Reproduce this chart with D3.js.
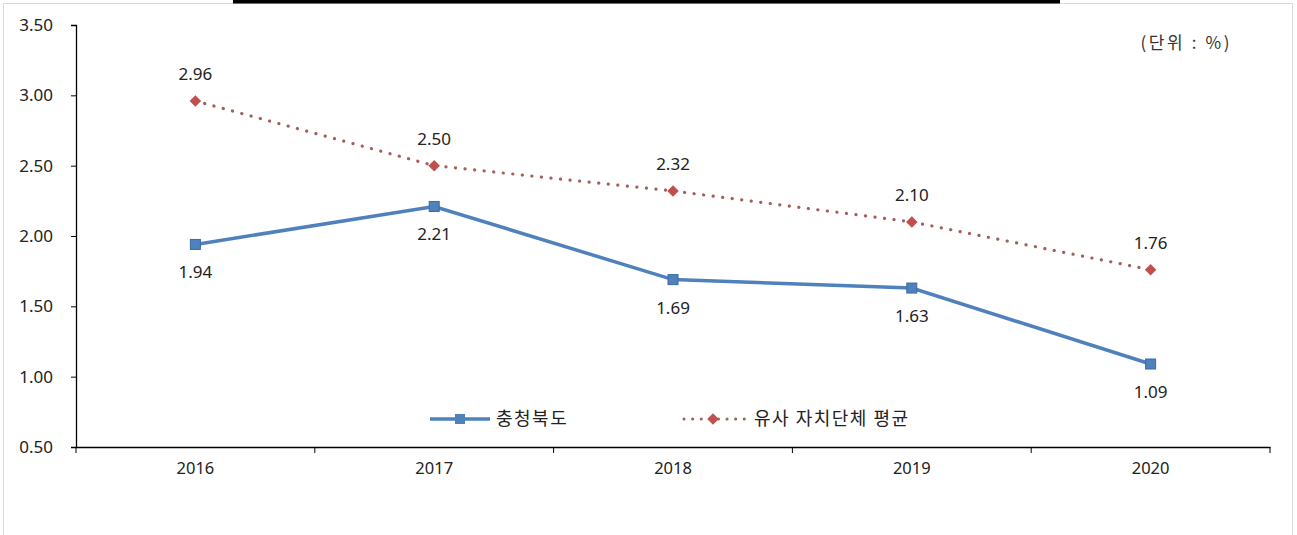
<!DOCTYPE html>
<html>
<head>
<meta charset="utf-8">
<script src="https://cdnjs.cloudflare.com/ajax/libs/d3/7.8.5/d3.min.js"></script>
<style>
  body { margin: 0; background: #fff; }
  svg { display: block; font-family: "Noto Sans", "Noto Sans CJK KR", sans-serif; }
  .kr { font-family: "Noto Sans CJK KR", sans-serif; }
</style>
</head>
<body>
<script>
var years = ["2016", "2017", "2018", "2019", "2020"];
var chungbuk = [1.94, 2.21, 1.69, 1.63, 1.09];
var similarAvg = [2.96, 2.50, 2.32, 2.10, 1.76];
var yTicks = [0.5, 1.0, 1.5, 2.0, 2.5, 3.0, 3.5];
var seriesNames = ["충청북도", "유사 자치단체 평균"];

var width = 1297, height = 535;
var margin = {top: 25, right: 27, bottom: 88, left: 76};

var svg = d3.select("body").append("svg")
    .attr("width", width)
    .attr("height", height);

// 바깥 테두리와 위쪽 검은 띠
svg.append("rect")
    .attr("x", 3.5).attr("y", 3.5)
    .attr("width", 1289).attr("height", 560)
    .attr("fill", "none")
    .attr("stroke", "#d9d9d9");
svg.append("rect")
    .attr("x", 233).attr("y", 0)
    .attr("width", 827).attr("height", 3.5)
    .attr("fill", "#000");

var x = d3.scaleBand()
    .domain(years)
    .range([margin.left, width - margin.right]);

var y = d3.scaleLinear()
    .domain([0.5, 3.5])
    .range([height - margin.bottom, margin.top]);

// y축
var yAxis = svg.append("g")
    .attr("transform", "translate(" + margin.left + ",0)")
    .call(d3.axisLeft(y).tickValues(yTicks).tickFormat(d3.format(".2f")).tickSize(5).tickPadding(18));
yAxis.select(".domain").attr("stroke", "#000").attr("stroke-width", 1.3);
yAxis.selectAll(".tick line").attr("stroke", "#000");
yAxis.selectAll("text").attr("font-size", 17).attr("fill", "#222")
    .attr("font-family", "Noto Sans");

// x축 (구간 경계에 눈금)
var xAxis = svg.append("g")
    .attr("transform", "translate(0," + (height - margin.bottom) + ")")
    .call(d3.axisBottom(x).tickSize(0).tickPadding(15));
xAxis.select(".domain").attr("stroke", "#000").attr("stroke-width", 1.3);
xAxis.selectAll("text").attr("font-size", 16.5).attr("fill", "#222")
    .attr("font-family", "Noto Sans");

var bounds = years.map(function(d) { return x(d); }).concat([x.range()[1]]);
svg.append("g").selectAll("line")
    .data(bounds)
    .enter().append("line")
    .attr("x1", function(d) { return d; })
    .attr("x2", function(d) { return d; })
    .attr("y1", height - margin.bottom)
    .attr("y2", height - margin.bottom + 6)
    .attr("stroke", "#000");

function cx(i) { return x(years[i]) + x.bandwidth() / 2; }

var line = d3.line()
    .x(function(d, i) { return cx(i); })
    .y(function(d) { return y(d); });

// 유사 자치단체 평균 (점선)
svg.append("path")
    .datum(similarAvg)
    .attr("d", line)
    .attr("fill", "none")
    .attr("stroke", "#a2605a")
    .attr("stroke-width", 3.2)
    .attr("stroke-dasharray", "0.1,9.5")
    .attr("stroke-linecap", "round");

// 충청북도 (실선)
svg.append("path")
    .datum(chungbuk)
    .attr("d", line)
    .attr("fill", "none")
    .attr("stroke", "#4f81bd")
    .attr("stroke-width", 3.5);

// 마름모 = 45도 돌린 정사각형
var diamond = d3.symbol().type(d3.symbolSquare).size(66);

svg.append("g").selectAll("path")
    .data(similarAvg)
    .enter().append("path")
    .attr("d", diamond)
    .attr("transform", function(d, i) { return "translate(" + cx(i) + "," + y(d) + ") rotate(45)"; })
    .attr("fill", "#c0504d");

svg.append("g").selectAll("rect")
    .data(chungbuk)
    .enter().append("rect")
    .attr("x", function(d, i) { return cx(i) - 5; })
    .attr("y", function(d) { return y(d) - 5; })
    .attr("width", 10).attr("height", 10)
    .attr("fill", "#4f81bd")
    .attr("stroke", "#3d6aa3");

// 데이터 레이블
svg.append("g").selectAll("text")
    .data(similarAvg)
    .enter().append("text")
    .attr("x", function(d, i) { return cx(i); })
    .attr("y", function(d) { return y(d) - 21; })
    .attr("text-anchor", "middle")
    .attr("font-size", 17)
    .attr("fill", "#222")
    .text(function(d) { return d.toFixed(2); });

svg.append("g").selectAll("text")
    .data(chungbuk)
    .enter().append("text")
    .attr("x", function(d, i) { return cx(i); })
    .attr("y", function(d) { return y(d) + 34; })
    .attr("text-anchor", "middle")
    .attr("font-size", 17)
    .attr("fill", "#222")
    .text(function(d) { return d.toFixed(2); });

// 단위
svg.append("text")
    .attr("class", "kr")
    .attr("x", 1232).attr("y", 49)
    .attr("text-anchor", "end")
    .attr("font-size", 17)
    .attr("letter-spacing", 2.6)
    .attr("fill", "#333")
    .text("(단위 : %)");

// 범례
var legY = 419;
var leg1 = svg.append("g");
leg1.append("line")
    .attr("x1", 430).attr("x2", 490).attr("y1", legY).attr("y2", legY)
    .attr("stroke", "#4f81bd").attr("stroke-width", 3.5);
leg1.append("rect")
    .attr("x", 455).attr("y", legY - 5).attr("width", 10).attr("height", 10)
    .attr("fill", "#4f81bd");
leg1.append("text")
    .attr("class", "kr")
    .attr("x", 496).attr("y", legY + 6)
    .attr("font-size", 18).attr("letter-spacing", 1.5).attr("fill", "#222")
    .text(seriesNames[0]);

var leg2 = svg.append("g");
leg2.append("line")
    .attr("x1", 684).attr("x2", 746).attr("y1", legY).attr("y2", legY)
    .attr("stroke", "#a2605a").attr("stroke-width", 3)
    .attr("stroke-dasharray", "0.1,8.5").attr("stroke-linecap", "round");
leg2.append("path")
    .attr("d", diamond)
    .attr("transform", "translate(713," + legY + ") rotate(45)")
    .attr("fill", "#c0504d");
leg2.append("text")
    .attr("class", "kr")
    .attr("x", 754).attr("y", legY + 6)
    .attr("font-size", 18).attr("letter-spacing", 1.5).attr("fill", "#222")
    .text(seriesNames[1]);
</script>
</body>
</html>
